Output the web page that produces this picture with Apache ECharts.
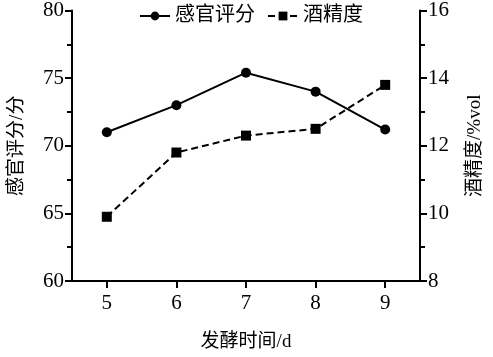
<!DOCTYPE html>
<html><head><meta charset="utf-8">
<script src="https://cdn.jsdelivr.net/npm/echarts@6/dist/echarts.min.js"></script>
<style>html,body{margin:0;padding:0;background:#fff}#c{width:493px;height:357px}</style>
</head><body><div id="c"></div>
<script>
var days = ['5','6','7','8','9'];
var sensory = [71.0, 73.0, 75.4, 74.0, 71.2];
var alcohol = [9.9, 11.8, 12.3, 12.5, 13.8];
var leftTicks = [60, 80, 5];
var rightTicks = [8, 16, 2];

var FONT = '"Times New Roman","Liberation Serif","Noto Sans CJK SC",serif';
var axisCommon = {
  axisLine: {show: true, lineStyle: {color: '#000', width: 2}},
  axisTick: {show: true, length: 7, lineStyle: {color: '#000', width: 2}},
  axisLabel: {color: '#000', fontSize: 21, fontFamily: FONT, margin: 8},
  splitLine: {show: false},
  nameTextStyle: {color: '#000', fontSize: 19, fontFamily: FONT}
};
var chart = echarts.init(document.getElementById('c'));
chart.setOption({
  animation: false,
  backgroundColor: '#fff',
  grid: {left: 71, right: 68, top: 10, bottom: 73},
  legend: {
    top: 1, left: 134, itemWidth: 30, itemHeight: 11, itemGap: 12,
    textStyle: {color: '#000', fontSize: 20, fontFamily: FONT},
    data: ['感官评分', '酒精度']
  },
  xAxis: Object.assign({}, axisCommon, {
    type: 'category', data: days, boundaryGap: true,
    axisTick: {show: true, length: 7, alignWithLabel: true, lineStyle: {color: '#000', width: 2}},
    axisLabel: {color: '#000', fontSize: 21, fontFamily: FONT, margin: 12},
    name: '发酵时间/d', nameLocation: 'middle', nameGap: 52
  }),
  yAxis: [
    Object.assign({}, axisCommon, {
      type: 'value', min: leftTicks[0], max: leftTicks[1], interval: leftTicks[2],
      minorTick: {show: true, splitNumber: 2, length: 5, lineStyle: {color: '#000', width: 2}},
      name: '感官评分/分', nameLocation: 'middle', nameGap: 45, nameRotate: 90
    }),
    Object.assign({}, axisCommon, {
      type: 'value', position: 'right', min: rightTicks[0], max: rightTicks[1], interval: rightTicks[2],
      minorTick: {show: true, splitNumber: 2, length: 5, lineStyle: {color: '#000', width: 2}},
      name: '酒精度/%vol', nameLocation: 'middle', nameGap: 46, nameRotate: 90
    })
  ],
  series: [
    {name: '感官评分', type: 'line', yAxisIndex: 0, data: sensory,
     symbol: 'circle', symbolSize: 10,
     itemStyle: {color: '#000'}, lineStyle: {color: '#000', width: 2, type: 'solid'}},
    {name: '酒精度', type: 'line', yAxisIndex: 1, data: alcohol,
     symbol: 'rect', symbolSize: 10,
     itemStyle: {color: '#000'}, lineStyle: {color: '#000', width: 2, type: [7, 4]}}
  ]
});
</script></body></html>
